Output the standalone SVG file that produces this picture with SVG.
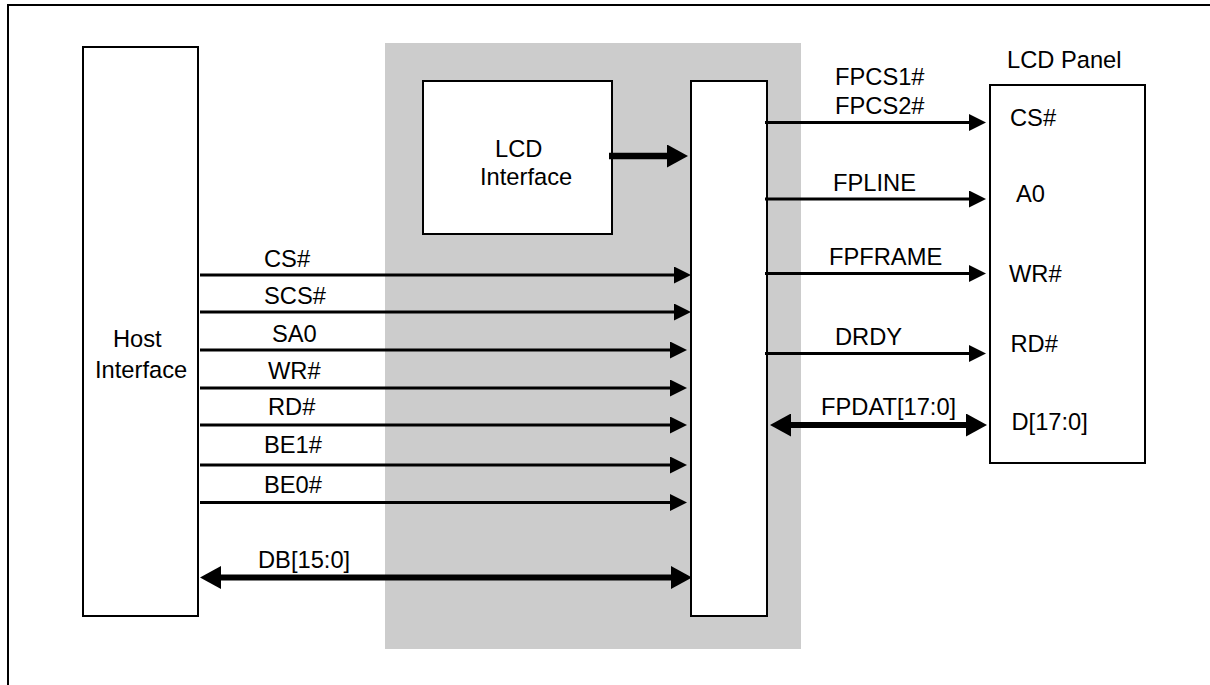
<svg xmlns="http://www.w3.org/2000/svg" width="1210" height="685" viewBox="0 0 1210 685">
  <style>
    .box { fill: #ffffff; stroke: #000000; stroke-width: 2; }
    .lbl { font-family: "Liberation Sans", Arial, Helvetica, sans-serif; font-size: 23.7px; fill: #000000; }
    .sig { stroke: #000000; stroke-width: 3; fill: none; marker-end: url(#arr); }
    .bus { stroke: #000000; stroke-width: 6; fill: none; marker-end: url(#arrBig); marker-start: url(#arrBig); }
  </style>
  <defs>
    <marker id="arr" markerUnits="userSpaceOnUse" markerWidth="17" markerHeight="17" refX="7" refY="8.5" orient="auto-start-reverse">
      <path d="M0,0 L17,8.5 L0,17 Z" fill="#000000"/>
    </marker>
    <marker id="arrBig" markerUnits="userSpaceOnUse" markerWidth="21" markerHeight="23" refX="10" refY="11.5" orient="auto-start-reverse">
      <path d="M0,0 L21,11.5 L0,23 Z" fill="#000000"/>
    </marker>
  </defs>

  <rect x="0" y="0" width="1210" height="685" fill="#ffffff"/>
  <!-- outer frame -->
  <rect id="frame" x="8" y="5" width="1220" height="700" fill="none" stroke="#000000" stroke-width="2"/>

  <!-- grey chip region -->
  <rect id="chip" x="385" y="43" width="416" height="606" fill="#cccccc"/>

  <g id="host">
    <rect class="box" x="83" y="47" width="115" height="569"/>
    <text class="lbl" x="113" y="346.5">Host</text>
    <text class="lbl" x="95" y="378">Interface</text>
  </g>

  <g id="lcdif">
    <rect class="box" x="423" y="81" width="189" height="153"/>
    <text class="lbl" x="495" y="156.5">LCD</text>
    <text class="lbl" x="480" y="185">Interface</text>
  </g>

  <g id="mux">
    <rect class="box" x="691" y="81" width="76" height="535"/>
  </g>

  <g id="panel">
    <rect class="box" x="990" y="85" width="155" height="378"/>
    <text class="lbl" x="1007" y="68">LCD Panel</text>
    <text class="lbl" x="1010" y="126">CS#</text>
    <text class="lbl" x="1016" y="201.5">A0</text>
    <text class="lbl" x="1009" y="281.5">WR#</text>
    <text class="lbl" x="1010.5" y="351.5">RD#</text>
    <text class="lbl" x="1011.5" y="430">D[17:0]</text>
  </g>

  <g id="connectors">
    <!-- LCD interface to mux -->
    <line x1="609" y1="156" x2="677" y2="156" stroke="#000000" stroke-width="6.5" marker-end="url(#arrBig)"/>

    <!-- host signals -->
    <line class="sig" x1="200" y1="275" x2="681" y2="275"/>
    <line class="sig" x1="200" y1="312" x2="681" y2="312"/>
    <line class="sig" x1="200" y1="350" x2="677" y2="350"/>
    <line class="sig" x1="200" y1="388" x2="677" y2="388"/>
    <line class="sig" x1="200" y1="425" x2="677" y2="425"/>
    <line class="sig" x1="200" y1="465" x2="677" y2="465"/>
    <line class="sig" x1="200" y1="502.5" x2="677" y2="502.5"/>
    <line class="bus" x1="211" y1="577.5" x2="681" y2="577.5"/>

    <!-- panel signals -->
    <line class="sig" x1="765" y1="122.5" x2="976" y2="122.5"/>
    <line class="sig" x1="765" y1="199" x2="976" y2="199"/>
    <line class="sig" x1="765" y1="273.5" x2="976" y2="273.5"/>
    <line class="sig" x1="765" y1="353.5" x2="976" y2="353.5"/>
    <line class="bus" x1="781" y1="425" x2="976" y2="425"/>

    <!-- labels -->
    <text class="lbl" x="264" y="266.5">CS#</text>
    <text class="lbl" x="264" y="304">SCS#</text>
    <text class="lbl" x="272" y="341.5">SA0</text>
    <text class="lbl" x="268" y="379">WR#</text>
    <text class="lbl" x="268" y="415">RD#</text>
    <text class="lbl" x="264" y="453">BE1#</text>
    <text class="lbl" x="264" y="493">BE0#</text>
    <text class="lbl" x="258" y="567.5">DB[15:0]</text>

    <text class="lbl" x="835" y="85">FPCS1#</text>
    <text class="lbl" x="835" y="114">FPCS2#</text>
    <text class="lbl" x="833" y="190.5">FPLINE</text>
    <text class="lbl" x="829" y="265">FPFRAME</text>
    <text class="lbl" x="835" y="345">DRDY</text>
    <text class="lbl" x="821" y="415">FPDAT[17:0]</text>
  </g>
</svg>
